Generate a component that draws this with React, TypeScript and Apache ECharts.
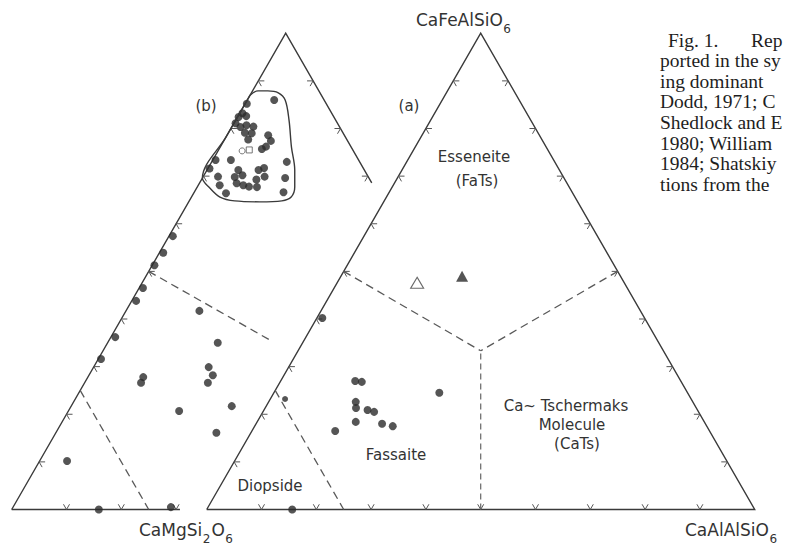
import { useEffect, useRef } from "react";
import * as echarts from "echarts";

// Every composition is [CaFeAlSiO6, CaMgSi2O6, CaAlAlSiO6] in mol %.
type Comp = [number, number, number];

// (b): compositions clustered in the esseneite field
const clusterB: Comp[] = [
  [86.0, 9.1, 4.9], [85.2, 14.5, 0.3], [83.2, 16.3, 0.5], [82.4, 17.4, 0.2],
  [82.6, 15.9, 1.5], [81.1, 18.6, 0.3], [80.3, 18.1, 1.6], [80.7, 16.8, 2.5],
  [80.4, 15.7, 3.9], [79.1, 17.9, 3.0], [79.0, 16.7, 4.3], [77.7, 18.0, 4.3],
  [78.6, 13.9, 7.5], [77.4, 14.0, 8.6], [76.2, 15.5, 8.3], [75.7, 16.5, 7.8],
  [73.4, 26.1, 0.5], [71.6, 28.1, 0.3], [73.4, 23.3, 3.3], [69.9, 27.4, 2.7],
  [68.1, 28.0, 3.9], [66.4, 27.7, 5.9], [71.3, 23.0, 5.7], [69.8, 24.4, 5.8],
  [70.2, 22.8, 7.0], [68.5, 24.7, 6.8], [68.1, 23.7, 8.2], [67.8, 22.8, 9.4],
  [69.3, 20.7, 10.0], [71.3, 19.3, 9.4], [71.7, 18.1, 10.2], [69.9, 18.9, 11.2],
  [67.7, 21.4, 10.9], [73.0, 13.3, 13.7], [69.6, 15.3, 15.1], [66.6, 17.1, 16.3],
];

// (b): remaining compositions
const scatterB: Comp[] = [
  [57.4, 41.9, 0.7], [53.9, 45.4, 0.7], [51.3, 48.3, 0.4], [46.5, 52.8, 0.7],
  [43.8, 55.4, 0.8], [36.2, 63.0, 0.8], [31.6, 67.9, 0.5], [41.7, 44.9, 13.4],
  [35.0, 44.9, 20.1], [29.9, 49.1, 21.0], [28.2, 49.2, 22.6], [26.6, 50.9, 22.5],
  [27.8, 62.1, 10.1], [26.6, 63.1, 10.3], [20.7, 59.1, 20.2], [21.7, 49.0, 29.3],
  [16.1, 54.6, 29.3], [10.2, 84.8, 5.0], [0.0, 84.1, 15.9], [0.5, 70.7, 28.8],
];

// (b): envelope drawn around the esseneite cluster
const envelopeB: Comp[] = [
  [87.0, 13.0, 0.0], [87.9, 11.1, 1.0], [87.9, 9.3, 2.8], [87.5, 7.6, 4.9],
  [86.0, 7.1, 6.9], [81.8, 8.5, 9.7], [76.1, 10.9, 13.0], [71.3, 12.7, 16.0],
  [67.7, 14.5, 17.8], [65.6, 16.2, 18.2], [64.8, 18.3, 16.9], [64.6, 22.4, 13.0],
  [64.8, 26.9, 8.3], [65.6, 29.2, 5.2], [67.5, 30.1, 2.4], [69.6, 30.4, 0.0],
  [78.3, 21.7, 0.0], [87.0, 13.0, 0.0],
];
const meanCircleB: Comp[] = [[75.3, 20.3, 4.4]];
const meanSquareB: Comp[] = [[75.5, 18.9, 5.6]];

// (a): fassaite compositions
const pointsA: Comp[] = [
  [40.2, 58.8, 1.0], [27.0, 59.4, 13.6], [26.8, 58.3, 14.9], [22.6, 61.5, 15.9],
  [21.3, 62.1, 16.6], [20.9, 60.2, 18.9], [20.5, 59.2, 20.3], [18.4, 63.6, 18.0],
  [18.0, 59.0, 23.0], [17.5, 57.3, 25.2], [16.5, 68.3, 15.2], [24.5, 45.3, 30.2],
  [0.0, 84.4, 15.6],
];
const minorA: Comp[] = [[23.2, 74.1, 2.7]];
const esseneiteOpen: Comp[] = [[47.6, 37.8, 14.6]];
const esseneiteFilled: Comp[] = [[49.0, 28.9, 22.1]];

// Field boundaries
const centroid: Comp = [33.33, 33.33, 33.34];
const boundariesA: Comp[][] = [
  [[50, 50, 0], centroid],
  [[50, 0, 50], centroid],
  [[25, 75, 0], [0, 75, 25]],
];
const boundaryAxisA: Comp[][] = [[[0, 50, 50], centroid]];
const boundariesB: Comp[][] = [
  [[50, 50, 0], [35.5, 35.0, 29.5]],
  [[25, 75, 0], [0, 75, 25]],
];

// Frames
const frameA: Comp[][] = [[[0, 100, 0], [0, 0, 100], [100, 0, 0], [0, 100, 0]]];
const frameB: Comp[][] = [
  [[0, 100, 0], [100, 0, 0], [68.6, 0, 31.4]],
  [[0, 100, 0], [0, 69.3, 30.7]],
];

const tickSteps = [10, 20, 30, 40, 50, 60, 70, 80, 90];
const tickStepsBRight = [70, 80, 90];
const tickStepsBBase = [10, 20, 30];

const vertexLabels = [
  { formula: "CaFeAlSiO_6", x: 416, y: 20 },
  { formula: "CaMgSi_2O_6", x: 139, y: 530 },
  { formula: "CaAlAlSiO_6", x: 685, y: 530 },
];

const fieldLabels = [
  { text: "(b)", x: 206, y: 106 },
  { text: "(a)", x: 409, y: 106 },
  { text: "Esseneite", x: 474, y: 157 },
  { text: "(FaTs)", x: 477, y: 181 },
  { text: "Fassaite", x: 396, y: 455 },
  { text: "Diopside", x: 270, y: 486 },
  { text: "Ca~ Tschermaks", x: 566, y: 406 },
  { text: "Molecule", x: 572, y: 425 },
  { text: "(CaTs)", x: 577, y: 444 },
];

const captionLines = [
  "",
  "ported in the sy",
  "ing dominant",
  "Dodd, 1971; C",
  "Shedlock and E",
  "1980; William",
  "1984; Shatskiy",
  "tions from the",
];
const captionHead = ["Fig. 1.", "Rep"];

const H = Math.sqrt(3) / 2;
const SHIFT_B = 195 / 548;
const INK = "#333";
const LETTER_FONT = '"DejaVu Sans", sans-serif';

function toXY(c: Comp, shift = 0): [number, number] {
  const s = c[0] + c[1] + c[2];
  const t = c[0] / s;
  const r = c[2] / s;
  return [r + t / 2 - shift, t * H];
}

const TICK = 0.011;
function ticks(shift: number, left: number[], right: number[], base: number[]) {
  const out: { coords: number[][] }[] = [];
  const add = (p: [number, number], d1: number[], d2: number[]) =>
    out.push({
      coords: [
        [p[0] + TICK * d1[0], p[1] + TICK * d1[1]],
        p,
        [p[0] + TICK * d2[0], p[1] + TICK * d2[1]],
      ],
    });
  base.forEach((k) => add(toXY([0, 100 - k, k], shift), [-0.5, H], [0.5, H]));
  left.forEach((k) => add(toXY([k, 100 - k, 0], shift), [1, 0], [0.5, -H]));
  right.forEach((k) => add(toXY([k, 0, 100 - k], shift), [-1, 0], [-0.5, -H]));
  return out;
}

const polys = (list: Comp[][], shift: number) =>
  list.map((seg) => ({ coords: seg.map((c) => toXY(c, shift)) }));

let measureCtx: CanvasRenderingContext2D | null = null;
function textWidth(s: string, font: string) {
  if (!measureCtx) measureCtx = document.createElement("canvas").getContext("2d");
  if (!measureCtx) return s.length * 9;
  measureCtx.font = font;
  return measureCtx.measureText(s).width;
}

function formulaText(formula: string, x: number, y: number, size: number) {
  const parts = formula.split(/(_\d)/).filter((p) => p.length > 0);
  const els: any[] = [];
  let cx = x;
  for (const p of parts) {
    const sub = p.startsWith("_");
    const txt = sub ? p.slice(1) : p;
    const fs = sub ? Math.round(size * 0.72) : size;
    els.push({
      type: "text",
      x: cx,
      y: sub ? y + size * 0.5 : y,
      silent: true,
      style: {
        text: txt,
        fontSize: fs,
        fontFamily: LETTER_FONT,
        fill: INK,
        textAlign: "left",
        textVerticalAlign: "middle",
      },
    });
    cx += textWidth(txt, `${fs}px ${LETTER_FONT}`) + (sub ? 1 : 0.5);
  }
  return els;
}

function buildOption(): any {
  const graphics: any[] = [];
  vertexLabels.forEach((v) => graphics.push(...formulaText(v.formula, v.x, v.y, 17)));
  fieldLabels.forEach((f) =>
    graphics.push({
      type: "text",
      x: f.x,
      y: f.y,
      silent: true,
      style: {
        text: f.text,
        fontSize: 15,
        fontFamily: LETTER_FONT,
        fill: INK,
        textAlign: "center",
        textVerticalAlign: "middle",
      },
    })
  );
  const capFont = '"Liberation Serif", "Times New Roman", serif';
  const capSize = 19.5;
  const capTop = 40;
  const capStep = 20.6;
  const capStyle = (text: string) => ({
    text, fontSize: capSize, fontFamily: capFont, fill: "#1e1e1e",
    textAlign: "left", textVerticalAlign: "middle",
  });
  graphics.push(
    { type: "text", x: 668, y: capTop, silent: true, style: capStyle(captionHead[0]) },
    { type: "text", x: 751, y: capTop, silent: true, style: capStyle(captionHead[1]) }
  );
  captionLines.forEach((line, i) => {
    if (!line) return;
    graphics.push({ type: "text", x: 660, y: capTop + i * capStep, silent: true, style: capStyle(line) });
  });

  const dotStyle = { color: "#2b2b2b" };
  const pts = (list: Comp[], shift: number) => list.map((c) => toXY(c, shift));

  return {
    animation: false,
    backgroundColor: "#fff",
    grid: { left: 0, right: 0, top: 0, bottom: 0 },
    xAxis: { type: "value", min: -0.3772, max: 1.0553, show: false },
    yAxis: { type: "value", min: -0.07, max: 0.9265, show: false },
    graphic: graphics,
    series: [
      {
        type: "lines", coordinateSystem: "cartesian2d", polyline: true, silent: true,
        data: [...polys(frameA, 0), ...polys(frameB, SHIFT_B)],
        lineStyle: { color: "#3a3a3a", width: 1.4, opacity: 1 },
      },
      {
        type: "lines", coordinateSystem: "cartesian2d", polyline: true, silent: true,
        data: [
          ...ticks(0, tickSteps, tickSteps, tickSteps),
          ...ticks(SHIFT_B, tickSteps, tickStepsBRight, tickStepsBBase),
        ],
        lineStyle: { color: "#555", width: 1, opacity: 1 },
      },
      {
        type: "lines", coordinateSystem: "cartesian2d", polyline: true, silent: true,
        data: [...polys(boundariesA, 0), ...polys(boundariesB, SHIFT_B)],
        lineStyle: { color: "#595959", width: 1.3, type: [8, 5], opacity: 1 },
      },
      {
        type: "lines", coordinateSystem: "cartesian2d", polyline: true, silent: true,
        data: polys(boundaryAxisA, 0),
        lineStyle: { color: "#666", width: 1.2, type: [6, 4], opacity: 1 },
      },
      {
        type: "line", silent: true, showSymbol: false, smooth: 0.35,
        data: pts(envelopeB, SHIFT_B),
        lineStyle: { color: "#3a3a3a", width: 1.4 },
      },
      {
        type: "scatter", silent: true, symbol: "circle", symbolSize: 8,
        data: [...pts(clusterB, SHIFT_B), ...pts(scatterB, SHIFT_B), ...pts(pointsA, 0)],
        itemStyle: dotStyle,
      },
      {
        type: "scatter", silent: true, symbol: "circle", symbolSize: 6,
        data: pts(minorA, 0), itemStyle: dotStyle,
      },
      {
        type: "scatter", silent: true, symbol: "circle", symbolSize: 6,
        data: pts(meanCircleB, SHIFT_B),
        itemStyle: { color: "#fff", borderColor: "#555", borderWidth: 1 },
      },
      {
        type: "scatter", silent: true, symbol: "rect", symbolSize: 6,
        data: pts(meanSquareB, SHIFT_B),
        itemStyle: { color: "#fff", borderColor: "#555", borderWidth: 1 },
      },
      {
        type: "scatter", silent: true, symbol: "triangle", symbolSize: [13, 11],
        data: pts(esseneiteOpen, 0),
        itemStyle: { color: "#fff", borderColor: "#444", borderWidth: 1.1 },
      },
      {
        type: "scatter", silent: true, symbol: "triangle", symbolSize: [12, 11],
        data: pts(esseneiteFilled, 0),
        itemStyle: { color: "#2b2b2b" },
      },
    ],
  };
}

export default function App() {
  const ref = useRef<HTMLDivElement>(null);
  useEffect(() => {
    if (!ref.current) return;
    const chart = echarts.init(ref.current, undefined, { renderer: "svg" });
    chart.setOption(buildOption());
    return () => chart.dispose();
  }, []);
  return (
    <div
      ref={ref}
      style={{ position: "absolute", left: 0, top: 0, width: 785, height: 548, background: "#fff" }}
    />
  );
}
